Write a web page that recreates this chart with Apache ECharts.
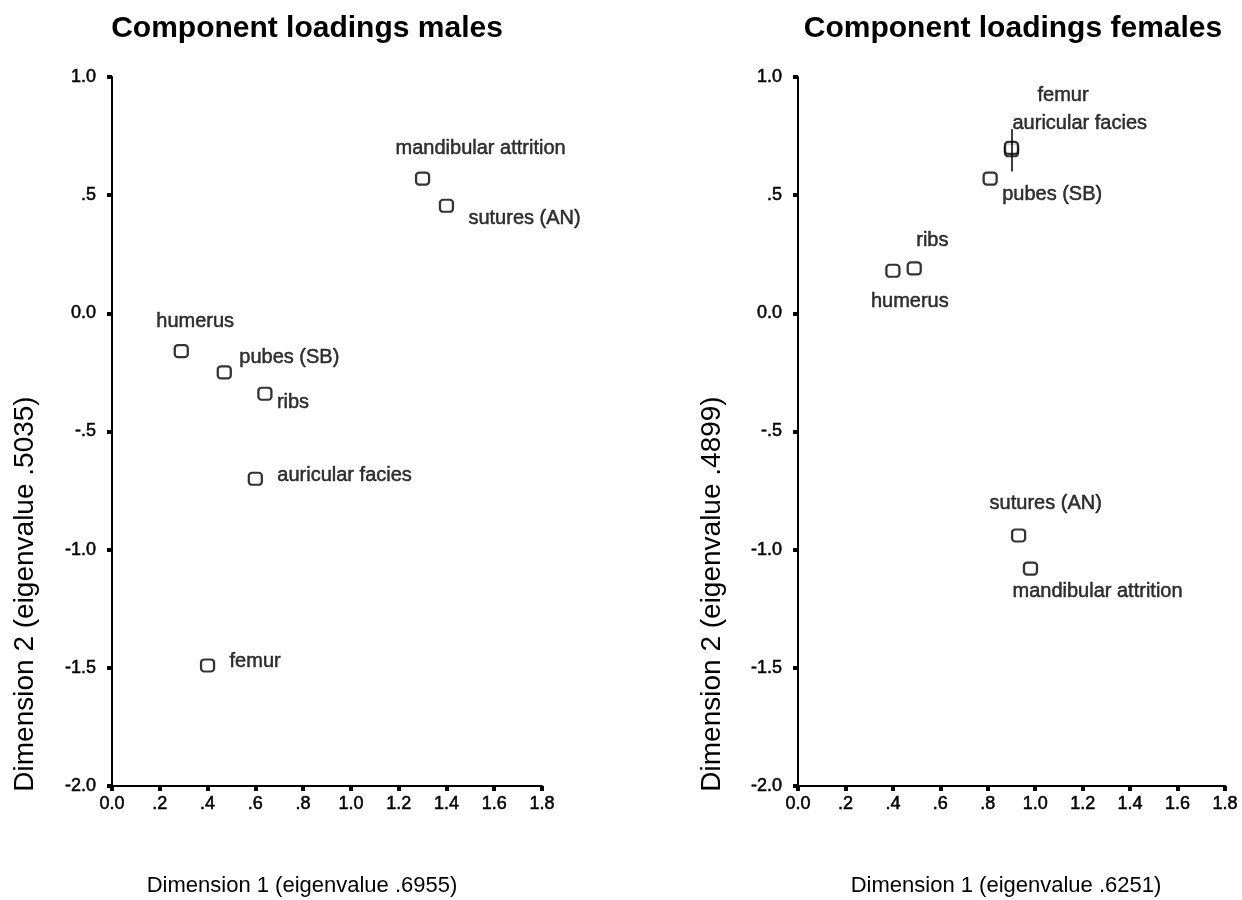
<!DOCTYPE html>
<html>
<head>
<meta charset="utf-8">
<script src="https://cdn.jsdelivr.net/npm/echarts@6/dist/echarts.min.js"></script>
<style>
  html, body { margin: 0; padding: 0; background: #ffffff; }
  #chart { width: 1242px; height: 900px; }
</style>
</head>
<body>
<div id="chart"></div>
<script>
// Variables measured on the skeletons
const variables = ['mandibular attrition', 'sutures (AN)', 'humerus', 'pubes (SB)', 'ribs', 'auricular facies', 'femur'];

// Component loadings, males
const malesDim1 = [1.30, 1.40, 0.29, 0.47, 0.64, 0.60, 0.40];
const malesDim2 = [0.57, 0.455, -0.16, -0.25, -0.34, -0.70, -1.49];

// Component loadings, females
const femalesDim1 = [0.98, 0.93, 0.40, 0.81, 0.49, 0.90, 0.90];
const femalesDim2 = [-1.08, -0.94, 0.18, 0.57, 0.19, 0.69, 0.70];

// Axis tick labels
const xTickLabels = ['0.0', '.2', '.4', '.6', '.8', '1.0', '1.2', '1.4', '1.6', '1.8'];
const yTickLabels = ['-2.0', '-1.5', '-1.0', '-.5', '0.0', '.5', '1.0'];

const titles = ['Component loadings males', 'Component loadings females'];
const xNames = ['Dimension 1 (eigenvalue .6955)', 'Dimension 1 (eigenvalue .6251)'];
const yNames = ['Dimension 2 (eigenvalue .5035)', 'Dimension 2 (eigenvalue .4899)'];

// Label placement for each point: left edge / vertical middle, offset from the marker centre
const maleLabelPlace = {
  'mandibular attrition': [-27, -30],
  'sutures (AN)': [22, 13],
  'humerus': [-25, -30],
  'pubes (SB)': [15, -15],
  'ribs': [12, 9],
  'auricular facies': [22, -3],
  'femur': [22, -4]
};
const femaleLabelPlace = {
  'mandibular attrition': [-18, 23],
  'sutures (AN)': [-29, -32],
  'humerus': [-22, 31],
  'pubes (SB)': [12, 16],
  'ribs': [2, -28],
  'auricular facies': [1, -27],
  'femur': [26, -52]
};

const FONT = "'Liberation Sans', Arial, sans-serif";

function points(d1, d2, place) {
  return variables.map((name, i) => ({
    name: name,
    value: [d1[i], d2[i]],
    label: { offset: place[name] }
  }));
}

function axisPair(idx) {
  return {
    x: {
      type: 'value', gridIndex: idx, min: 0, max: 1.8, interval: 0.2,
      axisLine: { onZero: false, lineStyle: { color: '#000', width: 2 } },
      axisTick: { show: true, length: 5, lineStyle: { color: '#000', width: 4 } },
      axisLabel: {
        color: '#000', fontSize: 18, fontFamily: FONT, margin: 9,
        textBorderColor: '#000', textBorderWidth: 0.5,
        formatter: v => xTickLabels[Math.round(v / 0.2)]
      },
      splitLine: { show: false }
    },
    y: {
      type: 'value', gridIndex: idx, min: -2, max: 1, interval: 0.5,
      axisLine: { onZero: false, lineStyle: { color: '#000', width: 2 } },
      axisTick: { show: true, length: 5, lineStyle: { color: '#000', width: 4 } },
      axisLabel: {
        color: '#000', fontSize: 18, fontFamily: FONT, margin: 16,
        textBorderColor: '#000', textBorderWidth: 0.5,
        formatter: v => yTickLabels[Math.round((v + 2) / 0.5)]
      },
      splitLine: { show: false }
    }
  };
}

const a0 = axisPair(0), a1 = axisPair(1);

const seriesBase = {
  type: 'scatter',
  symbol: 'roundRect',
  symbolSize: [13, 12],
  itemStyle: { color: '#fff', borderColor: '#000', borderWidth: 2.2 },
  label: {
    show: true, position: 'inside', align: 'left', verticalAlign: 'middle',
    color: '#000', fontSize: 20, fontFamily: FONT,
    textBorderColor: '#000', textBorderWidth: 0.5,
    formatter: p => p.name
  },
  emphasis: { disabled: true },
  animation: false
};

// Short leader through the overlapping femur / auricular facies pair
const afIdx = variables.indexOf('auricular facies');
const leaderX = femalesDim1[afIdx];
const leader = {
  silent: true, symbol: 'none', label: { show: false },
  lineStyle: { color: '#000', width: 1.5, type: 'solid' },
  data: [[
    { coord: [leaderX, femalesDim2[afIdx] + 0.09] },
    { coord: [leaderX, femalesDim2[afIdx] - 0.09] }
  ]]
};

const titleStyle = { fontFamily: FONT, fontSize: 30, fontWeight: 'bold', color: '#000' };
const xNameStyle = { font: '22px ' + FONT, fill: '#000', align: 'center', verticalAlign: 'middle' };
const yNameStyle = { font: '28px ' + FONT, fill: '#000', align: 'center', verticalAlign: 'middle' };

const chart = echarts.init(document.getElementById('chart'), null, { renderer: 'canvas' });
chart.setOption({
  backgroundColor: '#ffffff',
  animation: false,
  title: [
    { text: titles[0], left: 302, top: 9, textAlign: 'center', textStyle: titleStyle },
    { text: titles[1], left: 1008, top: 9, textAlign: 'center', textStyle: titleStyle }
  ],
  grid: [
    { left: 112, top: 77, width: 430, height: 709 },
    { left: 798, top: 77, width: 427, height: 709 }
  ],
  xAxis: [a0.x, a1.x],
  yAxis: [a0.y, a1.y],
  series: [
    Object.assign({}, seriesBase, { name: 'males', xAxisIndex: 0, yAxisIndex: 0,
      data: points(malesDim1, malesDim2, maleLabelPlace) }),
    Object.assign({}, seriesBase, { name: 'females', xAxisIndex: 1, yAxisIndex: 1,
      data: points(femalesDim1, femalesDim2, femaleLabelPlace), markLine: leader })
  ],
  graphic: [
    { type: 'text', x: 302, y: 886, style: Object.assign({ text: xNames[0] }, xNameStyle) },
    { type: 'text', x: 1006, y: 886, style: Object.assign({ text: xNames[1] }, xNameStyle) },
    { type: 'text', x: 25, y: 594, rotation: Math.PI / 2, style: Object.assign({ text: yNames[0] }, yNameStyle) },
    { type: 'text', x: 712, y: 594, rotation: Math.PI / 2, style: Object.assign({ text: yNames[1] }, yNameStyle) }
  ]
});
</script>
</body>
</html>
